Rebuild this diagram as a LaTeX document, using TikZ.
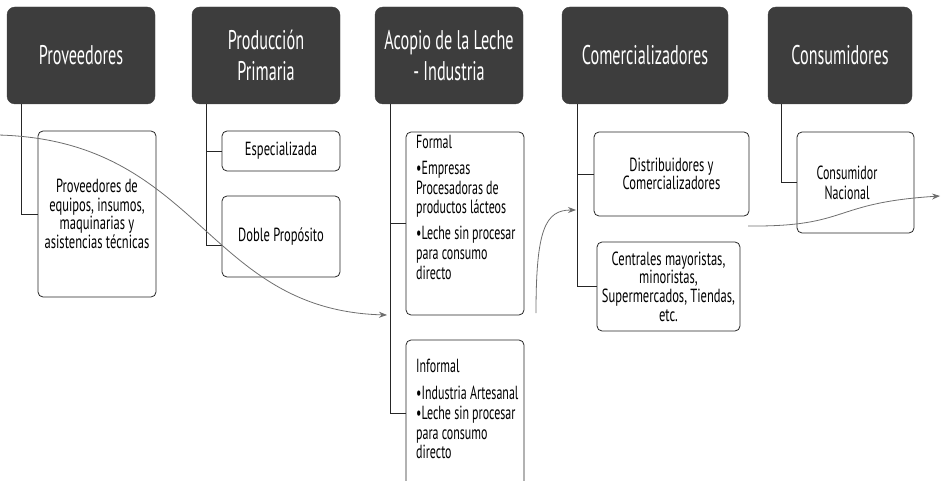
\documentclass[tikz,border=0pt]{standalone}
\usepackage{fontspec}
\setmainfont[FakeStretch=0.62]{PT Sans}
\newfontfamily\hdrfont[FakeStretch=0.6]{PT Sans}
\newfontfamily\boxfont[FakeStretch=0.66]{PT Sans}
\newfontfamily\listfont[FakeStretch=0.63]{PT Sans}
\usetikzlibrary{arrows.meta}
\definecolor{hdrgray}{HTML}{3D3D3D}
\definecolor{arrgray}{HTML}{6E6E6E}
\begin{document}
\begin{tikzpicture}[x=1pt,y=-1pt,
  hdr/.style={rectangle, rounded corners=8pt, fill=hdrgray, draw=hdrgray, text=white,
    font=\hdrfont\fontsize{27}{31}\selectfont, align=center, inner sep=0pt},
  box/.style={rectangle, rounded corners=5pt, draw=black!85, line width=0.8pt,
    font=\boxfont\fontsize{19}{18.7}\selectfont, align=center, inner sep=0pt},
  txt/.style={font=\listfont\fontsize{19}{19.8}\selectfont, inner sep=0pt},
  conn/.style={draw=black!85, line width=0.8pt},
  flow/.style={draw=arrgray, line width=0.8pt, -{Stealth[length=8pt,width=6pt]}}]
\useasboundingbox (0,0) rectangle (942,481);
\clip (0,0) rectangle (942,481);
% headers
\node[hdr, minimum width=148pt, minimum height=97pt] (h1) at (81,55.5) {Proveedores};
\node[hdr, minimum width=148pt, minimum height=97pt] (h2) at (266,55.5) {Producción\\Primaria};
\node[hdr, minimum width=148pt, minimum height=97pt] (h3) at (449,55.5) {Acopio de la Leche\\- Industria};
\node[hdr, minimum width=166pt, minimum height=97pt] (h4) at (645,55.5) {Comercializadores};
\node[hdr, minimum width=144pt, minimum height=97pt] (h5) at (840,55.5) {Consumidores};
% children
\node[box, minimum width=118pt, minimum height=166pt] (c1) at (97,214) {Proveedores de\\equipos, insumos,\\maquinarias y\\asistencias técnicas};
\node[box, minimum width=118pt, minimum height=40pt] (c2) at (281,151) {Especializada};
\node[box, minimum width=118pt, minimum height=81pt] (c3) at (281,236.5) {Doble Propósito};
\node[box, minimum width=118pt, minimum height=183pt] (c4) at (465,223.5) {};
\node[box, minimum width=118pt, minimum height=146pt] (c5) at (465,413) {};
\node[box, minimum width=155pt, minimum height=84pt] (c6) at (671.5,174) {Distribuidores y\\Comercializadores};
\node[box, minimum width=143pt, minimum height=89pt] (c7) at (668.5,286.5) {Centrales mayoristas,\\minoristas,\\Supermercados, Tiendas,\\etc.};
\node[box, minimum width=117pt, minimum height=101pt] (c8) at (855.5,182.5) {};
\node[txt, anchor=north west, align=left] (t4) at (416,135) {Formal\\[6pt]•Empresas\\Procesadoras de\\productos lácteos\\[6pt]•Leche sin procesar\\para consumo\\directo};
\node[txt, anchor=north west, align=left] (t5) at (416,359) {Informal\\[7pt]•Industria Artesanal\\•Leche sin procesar\\para consumo\\directo};
\node[txt, align=center] (t8) at (847,183) {Consumidor\\Nacional};
% connectors
\draw[conn] ([xshift=15pt]h1.south west) |- (c1.west);
\draw[conn] ([xshift=15pt]h2.south west) |- (c2.west);
\draw[conn] ([xshift=15pt]h2.south west) |- ([yshift=-9pt]c3.west);
\draw[conn] ([xshift=16pt]h3.south west) |- (c4.west);
\draw[conn] ([xshift=16pt]h3.south west) |- (c5.west);
\draw[conn] ([xshift=16pt]h4.south west) |- (c6.west);
\draw[conn] ([xshift=16pt]h4.south west) |- (c7.west);
\draw[conn] ([xshift=14pt]h5.south west) |- (c8.west);
% flow arrows
\coordinate (a1s) at (-2,135);
\coordinate (a1e) at (387,315);
\coordinate (a2s) at (536,313);
\coordinate (a2e) at (576,210);
\coordinate (a3s) at (748,226);
\coordinate (a3e) at (940,196);
\draw[flow] (a1s) .. controls (200,140) and (205,310) .. (a1e);
\draw[flow] (a2s) .. controls (536,230) and (545,210) .. (a2e);
\draw[flow] (a3s) .. controls (850,227) and (830,203) .. (a3e);
\end{tikzpicture}
\end{document}
